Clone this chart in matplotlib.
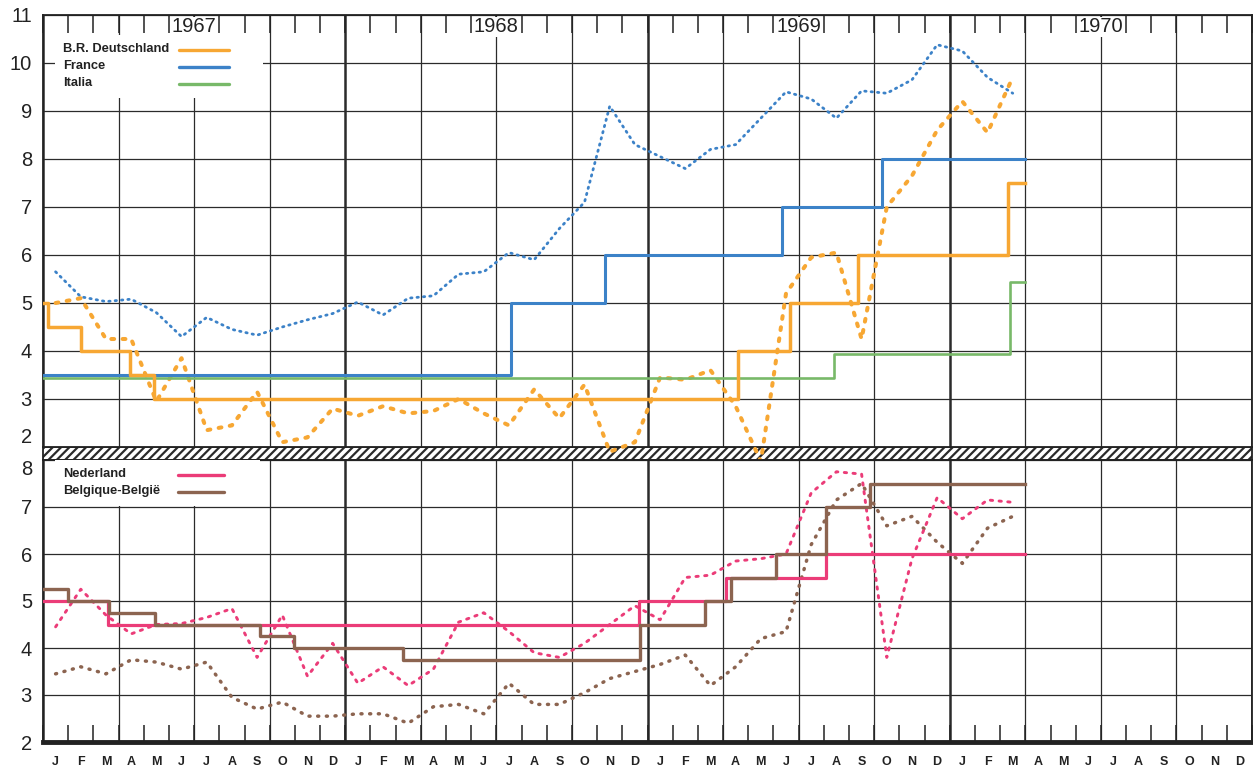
import numpy as np
import matplotlib.pyplot as plt
from matplotlib.offsetbox import AnchoredOffsetbox, TextArea, DrawingArea, VPacker, HPacker
from matplotlib.lines import Line2D
from matplotlib import transforms

plt.rcParams['font.family'] = ['Liberation Sans', 'DejaVu Sans']
plt.rcParams['hatch.linewidth'] = 1.6

# ---- data (x = months since Jan 1967) ----
month_abbr = ['J', 'F', 'M', 'A', 'M', 'J', 'J', 'A', 'S', 'O', 'N', 'D']
years = ['1967', '1968', '1969', '1970']

# discount rates (step changes)
de_t = [0, 0.19, 1.5, 3.45, 4.4, 27.6, 29.65, 32.35, 38.3, 39]
de_v = [5.0, 4.5, 4.0, 3.5, 3.0, 4.0, 5.0, 6.0, 7.5, 7.5]
fr_t = [0, 18.6, 22.3, 29.35, 33.3, 39]
fr_v = [3.5, 5.0, 6.0, 7.0, 8.0, 8.0]
it_t = [0, 31.4, 38.4, 39]
it_v = [3.5, 4.0, 5.5, 5.5]
nl_t = [0, 2.6, 23.65, 27.1, 31.1, 39]
nl_v = [5.0, 4.5, 5.0, 5.5, 6.0, 6.0]
be_t = [0, 1.0, 2.63, 4.43, 8.6, 9.97, 14.3, 23.7, 26.3, 27.3, 29.1, 31.1, 32.85, 39]
be_v = [5.25, 5.0, 4.75, 4.5, 4.25, 4.0, 3.75, 4.5, 5.0, 5.5, 6.0, 7.0, 7.5, 7.5]

# monthly market rates Jan 1967 - Mar 1970
de_mkt = [5.0, 5.1, 4.25, 4.25, 2.95, 3.85, 2.35, 2.45, 3.15, 2.1, 2.2, 2.8,
          2.65, 2.85, 2.7, 2.75, 3.0, 2.7, 2.45, 3.2, 2.6, 3.3, 1.9, 2.1,
          3.45, 3.4, 3.6, 2.85, 1.7, 5.2, 5.95, 6.05, 4.25, 7.0, 7.65, 8.6,
          9.2, 8.55, 9.7]
fr_mkt = [5.65, 5.13, 5.03, 5.08, 4.8, 4.3, 4.7, 4.45, 4.33, 4.5, 4.65, 4.78,
          5.02, 4.75, 5.1, 5.15, 5.6, 5.65, 6.05, 5.9, 6.55, 7.1, 9.1, 8.3,
          8.05, 7.8, 8.2, 8.3, 8.85, 9.4, 9.25, 8.85, 9.42, 9.37, 9.65, 10.38,
          10.25, 9.7, 9.37]
nl_mkt = [4.45, 5.25, 4.7, 4.3, 4.5, 4.52, 4.65, 4.84, 3.8, 4.7, 3.4, 4.1,
          3.25, 3.6, 3.2, 3.55, 4.55, 4.75, 4.35, 3.9, 3.8, 4.1, 4.5, 4.9,
          4.6, 5.5, 5.55, 5.85, 5.9, 6.0, 7.3, 7.75, 7.7, 3.8, 5.9, 7.2,
          6.75, 7.15, 7.1]
be_mkt = [3.45, 3.6, 3.45, 3.75, 3.7, 3.55, 3.7, 2.95, 2.7, 2.85, 2.55, 2.55,
          2.6, 2.6, 2.4, 2.75, 2.8, 2.6, 3.25, 2.8, 2.8, 3.05, 3.35, 3.5,
          3.65, 3.85, 3.2, 3.6, 4.2, 4.35, 6.2, 7.15, 7.5, 6.6, 6.8, 6.25,
          5.8, 6.55, 6.8]

mid = np.arange(len(de_mkt)) + 0.5

c_de = '#f7a733'
c_fr = '#3c82c8'
c_it = '#78b969'
c_nl = '#eb3c78'
c_be = '#8c6450'
ink = '#222222'

fig = plt.figure(figsize=(12.53, 7.70), dpi=100)
L, W = 43 / 1253, 1209 / 1253
axh = fig.add_axes([L, 1 - 460 / 770, W, 13 / 770])
ax1 = fig.add_axes([L, 1 - 447 / 770, W, 432 / 770])
ax2 = fig.add_axes([L, 1 - 742 / 770, W, 282 / 770])

# hatched break between the panels
axh.set_xticks([])
axh.set_yticks([])
axh.patch.set_hatch('////')
axh.patch.set_edgecolor('#2a2a2a')
axh.patch.set_linewidth(0)
for s in axh.spines.values():
    s.set_linewidth(1.3)
    s.set_color(ink)


def setup(ax, ymin, ymax):
    ax.set_xlim(0, 48)
    ax.set_ylim(ymin, ymax)
    ax.set_yticks(range(ymin, ymax + 1))
    ax.set_xticks(np.arange(0, 49, 3))
    ax.set_xticks(np.arange(0, 49), minor=True)
    ax.grid(True, which='major', color='#2b2b2b', lw=0.9)
    for i, gl in enumerate(ax.get_xgridlines()):
        if i % 4 == 0:
            gl.set_linewidth(1.8)
    ax.tick_params(axis='y', length=0, pad=8, labelsize=14.5, labelcolor=ink)
    for s in ax.spines.values():
        s.set_linewidth(1.3)
        s.set_color(ink)


def add_key(ax, names, colors, anchor, sep, line_w, box_w):
    fp = dict(fontsize=9.3, fontweight='bold', color=ink)
    col_text = VPacker(children=[TextArea(n, textprops=fp) for n in names],
                       align='left', pad=0, sep=3.4)
    handles = []
    for c in colors:
        da = DrawingArea(box_w, 8.8)
        da.add_artist(Line2D([0, line_w], [4, 4], color=c, lw=2.4, solid_capstyle='round'))
        handles.append(da)
    col_line = VPacker(children=handles, align='left', pad=0, sep=3.4)
    box = HPacker(children=[col_text, col_line], align='top', pad=0, sep=sep)
    key = AnchoredOffsetbox(loc='upper left', child=box, pad=0.6, borderpad=0,
                            frameon=True, bbox_to_anchor=anchor,
                            bbox_transform=ax.transAxes)
    key.patch.set_facecolor('white')
    key.patch.set_edgecolor('none')
    key.set_zorder(5)
    ax.add_artist(key)


# ---- top panel ----
setup(ax1, 2, 11)
ax1.tick_params(axis='x', which='both', direction='in', top=True, bottom=False,
                labeltop=False, labelbottom=False, length=13, width=1.1, color=ink)
ax1.get_yticklabels()[0].set_verticalalignment('bottom')

ax1.plot(mid, fr_mkt, color=c_fr, lw=2.0, ls=(0, (0.5, 1.8)),
         dash_capstyle='round', clip_on=False, zorder=3)
ax1.plot(mid, de_mkt, color=c_de, lw=2.9, ls=(0, (0.7, 2.1)),
         dash_capstyle='round', clip_on=False, zorder=3)
shift_down = transforms.offset_copy(ax1.transData, fig=fig, y=-2.5, units='dots')
ax1.step(it_t, it_v, where='post', color=c_it, lw=1.9, transform=shift_down, zorder=4)
ax1.step(fr_t, fr_v, where='post', color=c_fr, lw=2.2, zorder=4)
ax1.step(de_t, de_v, where='post', color=c_de, lw=2.5, zorder=4)

for i, yr in enumerate(years):
    ax1.text(6 + 12 * i, 10.75, yr, ha='center', va='center', fontsize=14.5,
             color=ink, zorder=6, bbox=dict(fc='white', ec='none', pad=0.5))

add_key(ax1, ['B.R. Deutschland', 'France', 'Italia'], [c_de, c_fr, c_it],
        (0.0099, 0.954), sep=7, line_w=36, box_w=54)

# ---- bottom panel ----
setup(ax2, 2, 8)
ax2.tick_params(axis='x', which='both', direction='in', bottom=True, top=False,
                labelbottom=False, length=12, width=1.1, color=ink)
ax2.spines['bottom'].set_linewidth(3.5)
ax2.get_yticklabels()[-1].set_verticalalignment('top')

ax2.plot(mid, be_mkt, color=c_be, lw=2.5, ls=(0, (0.3, 2.2)),
         dash_capstyle='round', zorder=3)
ax2.plot(mid, nl_mkt, color=c_nl, lw=2.1, ls=(0, (0.8, 2.2)),
         dash_capstyle='round', zorder=3)
ax2.step(nl_t, nl_v, where='post', color=c_nl, lw=2.3, zorder=4)
ax2.step(be_t, be_v, where='post', color=c_be, lw=2.4, zorder=4)

sec = ax2.secondary_xaxis('bottom')
sec.set_xticks(np.arange(48) + 0.5, labels=month_abbr * 4, fontweight='bold')
sec.tick_params(length=0, pad=10, labelsize=9, labelcolor=ink)
sec.spines['bottom'].set_visible(False)

add_key(ax2, ['Nederland', 'Belgique-België'], [c_nl, c_be],
        (0.0099, 1.0), sep=13, line_w=33, box_w=53)

fig.savefig('out.png', dpi=100)
